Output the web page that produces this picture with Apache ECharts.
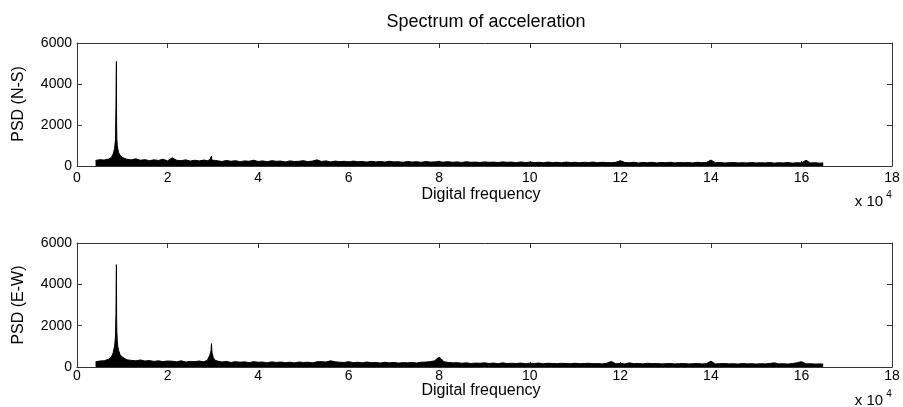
<!DOCTYPE html>
<html>
<head>
<meta charset="utf-8">
<script src="https://cdn.jsdelivr.net/npm/echarts@6/dist/echarts.min.js"></script>
<style>
html,body{margin:0;padding:0;background:#fff;}
#chart{width:903px;height:407px;}
</style>
</head>
<body>
<div id="chart"></div>
<script>
var titleText = 'Spectrum of acceleration';
var xName = 'Digital frequency';
var yNames = ['PSD (N-S)', 'PSD (E-W)'];
var xTicks = [0, 20000, 40000, 60000, 80000, 100000, 120000, 140000, 160000, 180000];
var yTicks = [0, 2000, 4000, 6000];

var freq = [
  4100,5000,6000,7000,7600,8000,8300,8500,8600,8700,8750,8800,8900,9000,9200,9500,
  10000,11000,12000,13000,14000,15000,16000,17000,18000,19000,20000,21000,22000,23000,24000,25000,26000,27000,28000,
  28800,29300,29600,29700,29800,30100,30600,
  31000,32000,33000,34000,35000,36000,37000,38000,39000,40000,41000,42000,43000,44000,45000,46000,47000,48000,49000,50000,
  51000,52000,53000,54000,55000,56000,57000,58000,59000,60000,61000,62000,63000,64000,65000,66000,67000,68000,69000,70000,
  71000,72000,73000,74000,75000,76000,77000,78000,79000,
  79500,80000,80500,
  81000,82000,83000,84000,85000,86000,87000,88000,89000,90000,
  91000,92000,93000,94000,95000,96000,97000,98000,99000,100000,
  101000,102000,103000,104000,105000,106000,107000,108000,109000,110000,
  111000,112000,113000,114000,115000,116000,117000,118000,119000,120000,
  121000,122000,123000,124000,125000,126000,127000,128000,129000,130000,
  131000,132000,133000,134000,135000,136000,137000,138000,139000,140000,
  141000,142000,143000,144000,145000,146000,147000,148000,149000,150000,
  151000,152000,153000,154000,155000,156000,157000,158000,159000,160000,
  161000,162000,163000,164000,164800
];

var psdNS = [
  270,310,290,340,420,600,850,1300,2850,5100,2000,1350,1000,850,650,520,
  420,330,300,350,280,310,260,300,270,330,250,400,280,260,300,240,280,250,290,
  260,300,350,480,280,240,270,
  250,220,270,230,260,210,250,230,280,220,250,210,260,230,240,200,250,220,230,260,
  210,240,300,220,250,200,240,210,230,200,240,210,220,190,230,200,220,190,230,200,
  210,180,220,190,210,180,220,190,200,
  210,230,190,
  190,210,180,200,170,210,180,190,170,200,
  180,190,170,200,180,190,160,200,170,190,
  170,180,160,190,170,180,160,190,170,180,
  160,180,170,190,160,180,170,160,180,260,
  170,160,180,150,170,160,180,150,170,160,
  180,150,170,160,170,150,180,160,170,290,
  160,170,150,160,170,150,160,150,170,150,
  160,150,170,140,160,150,170,140,160,150,
  280,150,160,140,150
];

var psdEW = [
  250,290,300,380,480,700,1000,1500,2550,4950,2400,1700,1250,1000,800,600,
  480,350,320,300,340,290,310,270,300,260,290,280,250,300,240,270,260,290,250,
  330,560,790,1130,720,450,310,
  280,240,270,220,260,230,250,210,260,230,240,200,250,220,240,210,230,200,240,220,
  230,200,250,260,240,300,250,230,220,260,210,230,200,240,210,220,190,230,200,220,
  190,210,200,220,190,230,240,260,300,
  400,470,380,
  260,220,200,210,180,200,170,190,180,200,
  170,190,160,200,170,180,170,190,160,180,
  170,190,160,180,170,160,180,170,160,180,
  160,170,180,160,170,150,180,270,160,170,
  150,200,160,170,150,180,160,170,150,160,
  170,150,160,170,150,160,170,150,160,280,
  150,160,170,150,160,140,170,150,160,140,
  160,150,170,200,150,160,140,170,200,260,
  150,160,140,150,140
];

function pairs(xs, ys) {
  var out = [];
  for (var i = 0; i < xs.length; i++) out.push([xs[i], ys[i]]);
  return out;
}

var FONT = 'Liberation Sans, Arial, sans-serif';
var AX = '#333';

var grids = [
  {left: 77, top: 43, width: 815, height: 123},
  {left: 77, top: 243, width: 815, height: 124}
];

function xAx(gi, pos, labels, margin) {
  return {
    type: 'value', gridIndex: gi, position: pos,
    min: xTicks[0], max: xTicks[xTicks.length - 1], interval: xTicks[1] - xTicks[0],
    axisLine: {show: true, onZero: false, lineStyle: {color: AX, width: 1}},
    axisTick: {show: true, inside: true, length: 5, lineStyle: {color: AX}},
    splitLine: {show: false},
    axisLabel: {show: labels, margin: margin, color: '#000', fontSize: 14, fontFamily: FONT,
      formatter: function (v) { return String(v / 10000); }}
  };
}
function yAx(gi, pos, labels) {
  return {
    type: 'value', gridIndex: gi, position: pos,
    min: yTicks[0], max: yTicks[yTicks.length - 1], interval: yTicks[1] - yTicks[0],
    axisLine: {show: true, onZero: false, lineStyle: {color: AX, width: 1}},
    axisTick: {show: true, inside: true, length: 5, lineStyle: {color: AX}},
    splitLine: {show: false},
    axisLabel: {show: labels, margin: 5, color: '#000', fontSize: 14, fontFamily: FONT,
      formatter: function (v) { return String(v); }}
  };
}

function spec(xi, yi, data) {
  return {
    type: 'line', xAxisIndex: xi, yAxisIndex: yi, data: data,
    symbol: 'none', showSymbol: false, sampling: null,
    lineStyle: {color: '#000', width: 1},
    areaStyle: {color: '#000', opacity: 1},
    itemStyle: {color: '#000'},
    z: 1
  };
}

function txt(x, y, s, size, rot) {
  return {
    type: 'text', x: x, y: y, rotation: rot || 0,
    style: {text: s, fill: '#000', font: size + 'px ' + FONT, textAlign: 'center', textVerticalAlign: 'middle'}
  };
}

var chart = echarts.init(document.getElementById('chart'), null, {renderer: 'canvas'});
chart.setOption({
  animation: false,
  backgroundColor: '#fff',
  grid: grids,
  xAxis: [xAx(0, 'bottom', true, 5), xAx(1, 'bottom', true, 2), xAx(0, 'top', false, 5), xAx(1, 'top', false, 5)],
  yAxis: [yAx(0, 'left', true), yAx(1, 'left', true), yAx(0, 'right', false), yAx(1, 'right', false)],
  series: [spec(0, 0, pairs(freq, psdNS)), spec(1, 1, pairs(freq, psdEW))],
  graphic: [
    txt(486, 22, titleText, 18),
    txt(481, 195, xName, 16),
    txt(481, 391, xName, 16),
    txt(19, 104, yNames[0], 16, Math.PI / 2),
    txt(19, 305, yNames[1], 16, Math.PI / 2),
    txt(869, 202, 'x 10', 15),
    txt(889, 195, '4', 10),
    txt(869, 401, 'x 10', 15),
    txt(889, 394, '4', 10)
  ]
});
</script>
</body>
</html>
